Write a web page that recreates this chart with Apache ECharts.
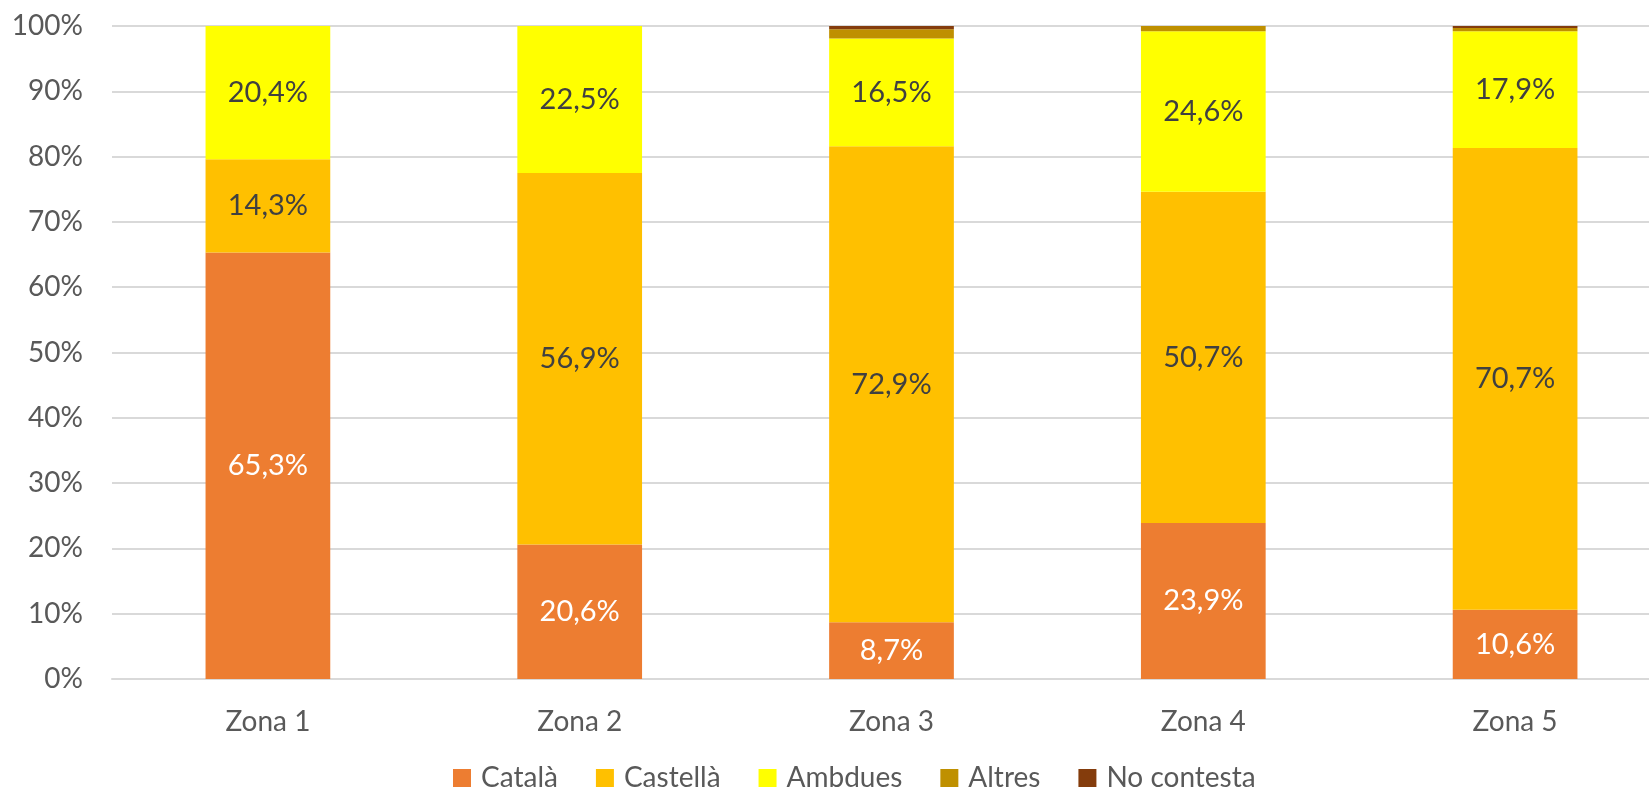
<!DOCTYPE html>
<html><head><meta charset="utf-8">
<script src="https://cdn.jsdelivr.net/npm/echarts@6/dist/echarts.min.js"></script>
<style>html,body{margin:0;padding:0;background:#fff;overflow:hidden}#c{width:1649px;height:795px}</style>
</head><body><div id="c"></div>
<script>
const categories = ['Zona 1','Zona 2','Zona 3','Zona 4','Zona 5'];
const catala    = [65.3, 20.6, 8.7, 23.9, 10.6];
const castella  = [14.3, 56.9, 72.9, 50.7, 70.7];
const ambdues   = [20.4, 22.5, 16.5, 24.6, 17.9];
const altres    = [0, 0, 1.4, 0.8, 0.5];
const noContesta= [0, 0, 0.5, 0, 0.3];
const yTicks = [0,10,20,30,40,50,60,70,80,90,100];

const FONT = 'Lato';
const fmt = v => v.toFixed(1).replace('.', ',') + '%';
function mk(name, data, color, labelColor, showLabel){
  return {
    name, type:'bar', stack:'s', data, barWidth:'40%',
    itemStyle:{color},
    label:{show:showLabel, position:'inside', color:labelColor, fontFamily:FONT, fontSize:29,
      formatter:p=> p.value>0 ? fmt(p.value) : ''}
  };
}
const chart = echarts.init(document.getElementById('c'));
chart.setOption({
  animation:false,
  grid:{left:112, width:1559, top:26, bottom:116, outerBoundsMode:'none', containLabel:false},
  legend:{bottom:-2, left:448, itemWidth:18, itemHeight:18, itemGap:38, icon:'rect',
    textStyle:{color:'#595959', fontFamily:FONT, fontSize:28, padding:[0,0,0,5]}},
  xAxis:{type:'category', data:categories,
    axisLine:{lineStyle:{color:'#d9d9d9', width:2}}, axisTick:{show:false},
    axisLabel:{color:'#595959', fontFamily:FONT, fontSize:28, margin:29}},
  yAxis:{type:'value', min:0, max:100, interval:10,
    axisLabel:{color:'#595959', fontFamily:FONT, fontSize:28, margin:29,
      formatter:v=> yTicks.includes(v) ? v+'%' : ''},
    splitLine:{lineStyle:{color:'#d9d9d9', width:2}}},
  series:[
    mk('Català', catala, '#ED7D31', '#ffffff', true),
    mk('Castellà', castella, '#FFC000', '#404040', true),
    mk('Ambdues', ambdues, '#FFFF00', '#404040', true),
    mk('Altres', altres, '#BF9000', '#404040', false),
    mk('No contesta', noContesta, '#843C0C', '#404040', false)
  ]
});
</script></body></html>
